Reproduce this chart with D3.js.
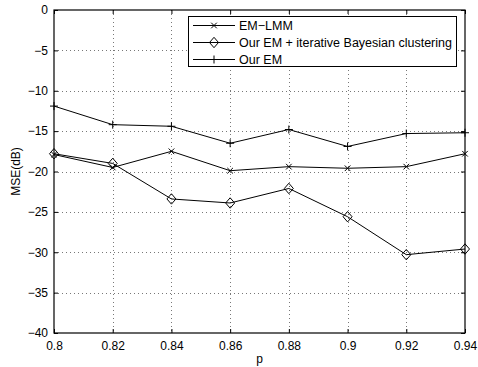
<!DOCTYPE html>
<html><head><meta charset="utf-8">
<script src="https://cdn.jsdelivr.net/npm/d3@7"></script>
<style>body{margin:0;background:#fff}svg{display:block}text{font-family:"Liberation Sans",Arial,sans-serif;fill:#000}</style>
</head><body>
<svg id="c" width="478" height="367"></svg>
<script>
const pValues = [0.8, 0.82, 0.84, 0.86, 0.88, 0.9, 0.92, 0.94];
const emLmm = [-17.9, -19.5, -17.5, -19.9, -19.4, -19.6, -19.4, -17.8];
const ourEmBayes = [-17.8, -19.0, -23.4, -23.9, -22.1, -25.6, -30.3, -29.6];
const ourEm = [-11.9, -14.2, -14.4, -16.5, -14.8, -16.9, -15.3, -15.2];
const xTicks = [0.8, 0.82, 0.84, 0.86, 0.88, 0.9, 0.92, 0.94];
const yTicks = [0, -5, -10, -15, -20, -25, -30, -35, -40];
const seriesNames = ["EM\u2212LMM", "Our EM + iterative Bayesian clustering", "Our EM"];
const seriesMarkers = ["x", "diamond", "plus"];

const svg = d3.select("#c");
const L = 54, R = 465, T = 10, B = 333;
const x = d3.scaleLinear().domain([0.8, 0.94]).range([L, R]);
const y = d3.scaleLinear().domain([-40, 0]).range([B, T]);
const fmt = v => (v < 0 ? "\u2212" + Math.abs(v) : String(v));

// grid
const g = svg.append("g");
g.selectAll(".gx").data(xTicks.slice(1, -1)).join("line")
  .attr("x1", d => Math.round(x(d)) + 0.5).attr("x2", d => Math.round(x(d)) + 0.5)
  .attr("y1", T).attr("y2", B).attr("stroke", "#555").attr("stroke-width", 0.8).attr("stroke-dasharray", "1,3");
g.selectAll(".gy").data(yTicks.slice(1, -1)).join("line")
  .attr("y1", d => Math.round(y(d)) + 0.5).attr("y2", d => Math.round(y(d)) + 0.5)
  .attr("x1", L).attr("x2", R).attr("stroke", "#555").attr("stroke-width", 0.8).attr("stroke-dasharray", "1,3");

// axes
const xa = svg.append("g").attr("transform", `translate(0,${B})`)
  .call(d3.axisBottom(x).tickValues(xTicks).tickSize(-4).tickPadding(8).tickFormat(d => String(d)));
const xt = svg.append("g").attr("transform", `translate(0,${T})`)
  .call(d3.axisTop(x).tickValues(xTicks).tickSize(-4).tickFormat(""));
const ya = svg.append("g").attr("transform", `translate(${L},0)`)
  .call(d3.axisLeft(y).tickValues(yTicks).tickSize(-4).tickPadding(6).tickFormat(fmt));
const yr = svg.append("g").attr("transform", `translate(${R},0)`)
  .call(d3.axisRight(y).tickValues(yTicks).tickSize(-4).tickFormat(""));
[xa, xt, ya, yr].forEach(a => {
  a.select(".domain").remove();
  a.selectAll("line").attr("stroke", "#000");
  a.selectAll("text").style("font-size", "12px").style("font-family", "'Liberation Sans', Arial, sans-serif");
});
svg.append("rect").attr("x", L).attr("y", T).attr("width", R - L).attr("height", B - T)
  .attr("fill", "none").attr("stroke", "#000").attr("stroke-width", 1.2);

// labels
svg.append("text").attr("x", x(0.87)).attr("y", 363).attr("text-anchor", "middle").style("font-size", "12px").text("p");
svg.append("text").attr("transform", `translate(20,${(T + B) / 2}) rotate(-90)`).attr("text-anchor", "middle")
  .style("font-size", "12px").text("MSE(dB)");

function marker(sel, type, cx, cy) {
  if (type === "x") {
    const s = 2.8;
    sel.append("path").attr("d", `M${cx - s},${cy - s}L${cx + s},${cy + s}M${cx - s},${cy + s}L${cx + s},${cy - s}`)
      .attr("stroke", "#000").attr("fill", "none").attr("stroke-width", 1);
  } else if (type === "diamond") {
    const w = 4.5, h = 5.2;
    sel.append("path").attr("d", `M${cx},${cy - h}L${cx + w},${cy}L${cx},${cy + h}L${cx - w},${cy}Z`)
      .attr("stroke", "#000").attr("fill", "none").attr("stroke-width", 1);
  } else {
    const s = 4;
    sel.append("path").attr("d", `M${cx - s},${cy}L${cx + s},${cy}M${cx},${cy - s}L${cx},${cy + s}`)
      .attr("stroke", "#000").attr("fill", "none").attr("stroke-width", 1);
  }
}

const allSeries = [emLmm, ourEmBayes, ourEm];
const line = d3.line().x((d, i) => x(pValues[i])).y(d => y(d));
allSeries.forEach((vals, k) => {
  const sg = svg.append("g");
  sg.append("path").attr("d", line(vals)).attr("fill", "none").attr("stroke", "#000").attr("stroke-width", 1);
  vals.forEach((v, i) => marker(sg, seriesMarkers[k], x(pValues[i]), y(v)));
});

// legend
const lg = svg.append("g");
lg.append("rect").attr("x", 188.5).attr("y", 16.5).attr("width", 268).attr("height", 50)
  .attr("fill", "#fff").attr("stroke", "#000").attr("stroke-width", 1);
seriesNames.forEach((name, k) => {
  const cy = 25.5 + k * 17;
  lg.append("line").attr("x1", 193).attr("x2", 235).attr("y1", cy).attr("y2", cy).attr("stroke", "#000");
  marker(lg, seriesMarkers[k], 214, cy);
  lg.append("text").attr("x", 239).attr("y", cy + 4.5).style("font-size", "12.5px").text(name);
});
</script>
</body></html>
